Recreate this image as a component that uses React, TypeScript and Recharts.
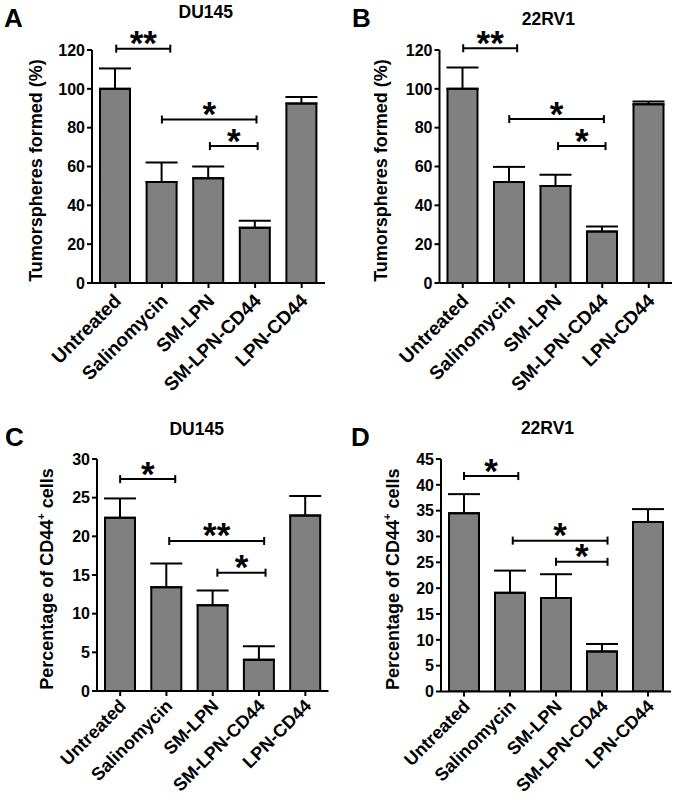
import { BarChart, Bar, XAxis, YAxis, ErrorBar, ReferenceLine } from 'recharts';

const FONT = '"Liberation Sans", Arial, Helvetica, sans-serif';

const categories = ['Untreated', 'Salinomycin', 'SM-LPN', 'SM-LPN-CD44', 'LPN-CD44'];

// A - tumorspheres formed, DU145
const duTumor = [100, 52, 54, 28.5, 92.5];
const duTumorErr = [10.5, 10, 6, 3.5, 3.3];
// B - tumorspheres formed, 22RV1
const rvTumor = [100, 52, 50, 26.5, 92];
const rvTumorErr = [11, 7.8, 5.7, 2.6, 1.5];
// C - CD44+ cells, DU145
const duCd44 = [22.4, 13.4, 11.1, 4.05, 22.7];
const duCd44Err = [2.5, 3.1, 1.9, 1.75, 2.5];
// D - CD44+ cells, 22RV1
const rvCd44 = [34.5, 19.1, 18.1, 7.75, 32.8];
const rvCd44Err = [3.7, 4.3, 4.6, 1.45, 2.5];

const tumorTicks = [0, 20, 40, 60, 80, 100, 120];
const duCd44Ticks = [0, 5, 10, 15, 20, 25, 30];
const rvCd44Ticks = [0, 5, 10, 15, 20, 25, 30, 35, 40, 45];

// significance brackets, x on a 0..5 category-index scale, y in data units
const duTumorSig = [
  { from: 0.52, to: 1.68, y: 120.7, stars: '**' },
  { from: 1.5, to: 3.53, y: 84.2, stars: '*' },
  { from: 2.53, to: 3.555, y: 70.5, stars: '*' },
];
const rvTumorSig = [
  { from: 0.51, to: 1.67, y: 120.9, stars: '**' },
  { from: 1.5, to: 3.535, y: 84.4, stars: '*' },
  { from: 2.55, to: 3.57, y: 70.5, stars: '*' },
];
const duCd44Sig = [
  { from: 0.5, to: 1.69, y: 27.4, stars: '*' },
  { from: 1.56, to: 3.61, y: 19.4, stars: '**' },
  { from: 2.6, to: 3.64, y: 15.3, stars: '*' },
];
const rvCd44Sig = [
  { from: 0.5, to: 1.68, y: 41.7, stars: '*' },
  { from: 1.56, to: 3.62, y: 29.2, stars: '*' },
  { from: 2.5, to: 3.62, y: 25.1, stars: '*' },
];

const rows = (vals: number[], errs: number[]) =>
  categories.map((name, i) => ({ name, pos: i + 0.5, value: vals[i], err: [0, errs[i]] }));

const XTick = ({ x, y, payload, size, drop }: any) => (
  <text
    transform={`translate(${x + 7},${y + drop}) rotate(-45)`}
    textAnchor="end"
    fontSize={size}
    fontWeight="bold"
    fontFamily={FONT}
    fill="#000"
  >
    {payload.value}
  </text>
);

const makeBracket = (stars: string) => (p: any) => {
  const { x1, y1, x2, y2 } = p;
  return (
    <g>
      <line x1={x1} y1={y1} x2={x2} y2={y2} stroke="#000" strokeWidth={2} />
      <line x1={x1} y1={y1 - 4} x2={x1} y2={y1 + 4} stroke="#000" strokeWidth={2} />
      <line x1={x2} y1={y2 - 4} x2={x2} y2={y2 + 4} stroke="#000" strokeWidth={2} />
      <text
        x={(x1 + x2) / 2}
        y={y1 + 6.5}
        textAnchor="middle"
        fontSize={35}
        fontWeight="bold"
        fontFamily={FONT}
        fill="#000"
      >
        {stars}
      </text>
    </g>
  );
};

type PanelProps = {
  box: number[];
  plot: number[];
  data: { name: string; pos: number; value: number; err: number[] }[];
  ticks: number[];
  sig: { from: number; to: number; y: number; stars: string }[];
  yLabelX: number;
  tickSize: number;
  tickDrop: number;
  cd44?: boolean;
};

function Panel({ box, plot, data, ticks, sig, yLabelX, tickSize, tickDrop, cd44 }: PanelProps) {
  const [bx, by, bw, bh] = box;
  const [l, t, r, b] = plot;
  const yw = 60;
  const margin = { top: t - by, left: l - bx - yw, right: bx + bw - r, bottom: by + bh - b - 100 };
  const max = ticks[ticks.length - 1];

  const yLabel = ({ viewBox }: any) => {
    const cx = yLabelX - bx;
    const cy = viewBox.y + viewBox.height / 2 + 4;
    return (
      <text
        x={cx}
        y={cy}
        transform={`rotate(-90, ${cx}, ${cy})`}
        textAnchor="middle"
        fontSize={18}
        fontWeight="bold"
        fontFamily={FONT}
        fill="#000"
      >
        {cd44 ? (
          <>
            Percentage of CD44
            <tspan fontSize={11} dy={-8}>+</tspan>
            <tspan dy={8}> cells</tspan>
          </>
        ) : (
          'Tumorspheres formed (%)'
        )}
      </text>
    );
  };

  return (
    <div style={{ position: 'absolute', left: bx, top: by }}>
      <BarChart width={bw} height={bh} data={data} margin={margin}>
        <XAxis
          xAxisId="cat"
          dataKey="name"
          height={100}
          interval={0}
          tick={<XTick size={tickSize} drop={tickDrop} />}
          tickSize={5}
          tickMargin={2}
          axisLine={{ stroke: '#000', strokeWidth: 2 }}
          tickLine={{ stroke: '#000', strokeWidth: 2 }}
        />
        <XAxis xAxisId="num" dataKey="pos" type="number" domain={[0, 5]} allowDataOverflow hide />
        <YAxis
          width={yw}
          domain={[0, max]}
          ticks={ticks}
          interval={0}
          allowDataOverflow
          tickSize={5}
          tickMargin={2}
          tick={{ fill: '#000', fontSize: 16, fontWeight: 'bold', fontFamily: FONT }}
          axisLine={{ stroke: '#000', strokeWidth: 2 }}
          tickLine={{ stroke: '#000', strokeWidth: 2 }}
          label={{ content: yLabel }}
        />
        <Bar
          xAxisId="cat"
          dataKey="value"
          barSize={30}
          fill="#808080"
          stroke="#000"
          strokeWidth={2}
          isAnimationActive={false}
        >
          <ErrorBar
            dataKey="err"
            direction="y"
            width={16}
            stroke="#000"
            strokeWidth={2}
            isAnimationActive={false}
          />
        </Bar>
        {sig.map((s, i) => (
          <ReferenceLine
            key={i}
            xAxisId="num"
            ifOverflow="visible"
            segment={[
              { x: s.from, y: s.y },
              { x: s.to, y: s.y },
            ]}
            shape={makeBracket(s.stars)}
          />
        ))}
      </BarChart>
    </div>
  );
}

const heading = { fontFamily: FONT, fontWeight: 'bold', fill: '#000' } as const;

export default function App() {
  return (
    <div style={{ position: 'absolute', left: 0, top: 0, width: 677, height: 798, background: '#fff' }}>
      <Panel
        box={[0, 0, 338, 398]}
        plot={[92, 50, 325, 283]}
        data={rows(duTumor, duTumorErr)}
        ticks={tumorTicks}
        sig={duTumorSig}
        yLabelX={41.5}
        tickSize={19}
        tickDrop={12}
      />
      <Panel
        box={[338, 0, 339, 398]}
        plot={[439.5, 50, 672, 283]}
        data={rows(rvTumor, rvTumorErr)}
        ticks={tumorTicks}
        sig={rvTumorSig}
        yLabelX={387}
        tickSize={19}
        tickDrop={12}
      />
      <Panel
        box={[0, 398, 338, 400]}
        plot={[97, 459, 328.5, 691]}
        data={rows(duCd44, duCd44Err)}
        ticks={duCd44Ticks}
        sig={duCd44Sig}
        yLabelX={53}
        tickSize={18}
        tickDrop={9}
        cd44
      />
      <Panel
        box={[338, 398, 339, 400]}
        plot={[441, 459, 671, 691.5]}
        data={rows(rvCd44, rvCd44Err)}
        ticks={rvCd44Ticks}
        sig={rvCd44Sig}
        yLabelX={398.5}
        tickSize={18}
        tickDrop={9}
        cd44
      />
      <svg width={677} height={798} style={{ position: 'absolute', left: 0, top: 0, pointerEvents: 'none' }}>
        <text x={4} y={27.3} fontSize={26} {...heading}>A</text>
        <text x={352} y={27.3} fontSize={26} {...heading}>B</text>
        <text x={5} y={446} fontSize={26} {...heading}>C</text>
        <text x={351} y={446} fontSize={26} {...heading}>D</text>
        <text x={205.8} y={18.3} fontSize={17.5} textAnchor="middle" {...heading}>DU145</text>
        <text x={548.3} y={25} fontSize={17.5} textAnchor="middle" {...heading}>22RV1</text>
        <text x={196.7} y={434.5} fontSize={17.5} textAnchor="middle" {...heading}>DU145</text>
        <text x={547.5} y={434} fontSize={17.5} textAnchor="middle" {...heading}>22RV1</text>
      </svg>
    </div>
  );
}
